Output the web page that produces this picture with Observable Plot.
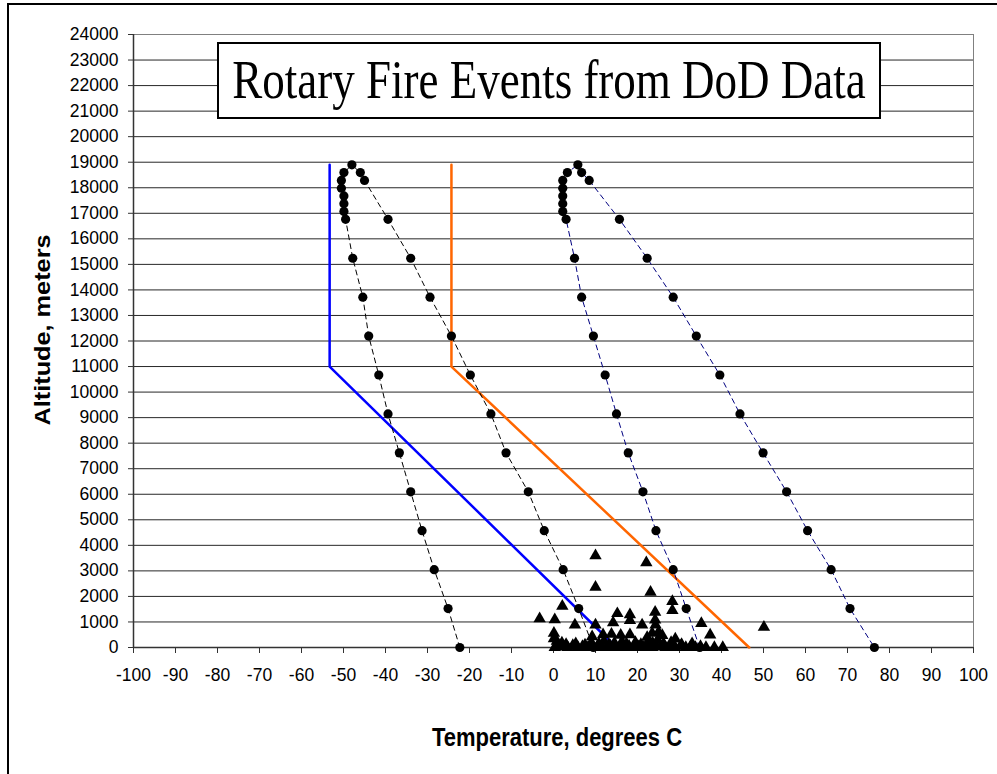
<!DOCTYPE html>
<html>
<head>
<meta charset="utf-8">
<script src="https://cdn.jsdelivr.net/npm/d3@7"></script>
<script src="https://cdn.jsdelivr.net/npm/@observablehq/plot@0.6"></script>
<style>
  html, body { margin: 0; padding: 0; background: #fff; }
</style>
</head>
<body>
<div id="chart"></div>
<script>
// ---- Data ----
const xTicks = [-100,-90,-80,-70,-60,-50,-40,-30,-20,-10,0,10,20,30,40,50,60,70,80,90,100];
const yTicks = [0,1000,2000,3000,4000,5000,6000,7000,8000,9000,10000,11000,12000,13000,14000,15000,16000,17000,18000,19000,20000,21000,22000,23000,24000];

// altitudes (m) of the profile points, ascending
const profileAlt = [0,1524,3048,4572,6096,7620,9144,10668,12192,13716,15240,16764,17069,17374,17678,17983,18288,18593,18898];
// altitudes of the descending (warm) side, top to bottom
const warmAlt = [18593,18288,16764,15240,13716,12192,10668,9144,7620,6096,4572,3048,1524,0];

// black profile pair
const blackColdTemp = [-22.3,-25.1,-28.4,-31.3,-34.0,-36.7,-39.4,-41.6,-44.0,-45.4,-47.8,-49.5,-49.9,-49.9,-49.9,-50.5,-50.5,-49.9,-48.0];
const blackWarmTemp = [-46.0,-45.0,-39.4,-34.0,-29.4,-24.3,-19.8,-14.9,-11.3,-6.0,-2.2,2.3,6.0,9.5];

// navy profile pair
const navyColdTemp = [34.8,31.6,28.5,24.4,21.3,17.8,15.0,12.3,9.5,6.7,5.0,3.0,2.2,2.2,2.2,2.2,2.2,3.3,5.8];
const navyWarmTemp = [6.7,8.5,15.7,22.3,28.5,34.0,39.6,44.4,49.9,55.5,60.5,66.1,70.6,76.4];

// reference lapse-rate lines
const blueTemp = [-53.3,-53.3,15.0];
const blueAlt = [18900,11000,0];
const orangeTemp = [-24.3,-24.3,46.6];
const orangeAlt = [18900,11000,0];

// rotary fire events (triangles)
const fireTemp = [
  10.0,10.0,22.1,23.1,28.3,28.3,2.1,-3.3,0.3,5.1,10.0,15.2,18.2,18.2,14.2,21.1,24.2,24.2,24.3,35.2,37.3,50.1,0.1,0.1,25.0,25.9,
  9.2,11.8,13.8,16.0,18.2,22.3,23.5,29.0,
  0.8,2.0,3.0,5.3,7.5,9.0,10.8,12.0,13.2,14.5,16.3,17.4,19.5,20.8,22.6,23.6,24.8,26.2,28.0,30.5,33.0,
  0.3,1.2,2.5,3.4,4.6,5.8,6.9,8.0,9.1,10.3,11.4,12.6,13.5,14.7,15.9,16.8,18.0,19.1,20.2,21.4,22.3,23.5,24.6,25.5,26.7,27.8,29.0,30.2,31.5,32.6,33.8,35.0,36.3,38.3,40.3
];
const fireAlt = [
  3600,2360,3320,2170,1800,1450,1620,1130,1090,880,880,1330,1290,1060,970,880,1380,1080,880,940,490,800,560,350,600,470,
  420,500,520,480,500,400,560,340,
  250,180,120,150,100,200,150,250,120,180,230,140,200,120,260,180,300,150,200,120,150,
  0,60,20,0,80,0,40,0,60,0,30,0,70,0,20,0,50,0,30,0,60,0,20,40,0,30,0,50,0,20,0,40,0,0,0
];

// ---- Build tables ----
const toRows = (xs, ys) => xs.map((x, i) => ({x, y: ys[i]}));
const blackProfile = toRows(blackColdTemp, profileAlt).concat(toRows(blackWarmTemp, warmAlt));
const navyProfile = toRows(navyColdTemp, profileAlt).concat(toRows(navyWarmTemp, warmAlt));
const blueLine = toRows(blueTemp, blueAlt);
const orangeLine = toRows(orangeTemp, orangeAlt);
const fires = toRows(fireTemp, fireAlt);

const W = 997, H = 774;
const chart = Plot.plot({
  width: W,
  height: H,
  marginLeft: 133,
  marginRight: 24,
  marginTop: 34,
  marginBottom: 127,
  style: {fontFamily: "'Liberation Sans', Arial, sans-serif", fontSize: "17.5px", color: "#000", background: "#fff", overflow: "visible"},
  x: {domain: [-100, 100]},
  y: {domain: [0, 24000]},
  marks: [
    Plot.gridY(yTicks.filter(d => d > 0 && d < 24000), {stroke: "#000", strokeOpacity: 0.85, strokeWidth: 1}),
    Plot.ruleY([24000], {stroke: "#808080", strokeWidth: 1}),
    Plot.ruleX([100], {stroke: "#808080", strokeWidth: 1}),
    Plot.ruleX([-100], {stroke: "#333", strokeWidth: 1.5}),
    Plot.ruleY([0], {stroke: "#333", strokeWidth: 1.5}),
    Plot.axisY({ticks: yTicks, tickSize: 5, tickPadding: 10, tickFormat: d => String(d), label: null, fontSize: 17.5, stroke: "#333"}),
    Plot.axisX({ticks: xTicks, tickSize: 6, tickPadding: 15, tickFormat: d => String(d), label: null, fontSize: 17.5, stroke: "#333"}),
    Plot.line(blueLine, {x: "x", y: "y", stroke: "#0000FF", strokeWidth: 2.5}),
    Plot.line(orangeLine, {x: "x", y: "y", stroke: "#FF6600", strokeWidth: 2.5}),
    Plot.line(blackProfile, {x: "x", y: "y", stroke: "#000", strokeWidth: 1, strokeDasharray: "5,4"}),
    Plot.line(navyProfile, {x: "x", y: "y", stroke: "#000080", strokeWidth: 1, strokeDasharray: "5,4"}),
    Plot.dot(blackProfile, {x: "x", y: "y", r: 4.6, fill: "#000", stroke: null}),
    Plot.dot(navyProfile, {x: "x", y: "y", r: 4.6, fill: "#000", stroke: null}),
    Plot.dot(fires, {x: "x", y: "y", symbol: "triangle", r: 4.6, fill: "#000", stroke: null})
  ]
});

const svg = d3.select(chart);
// outer chart frame
svg.append("path").attr("d", `M8,${H} V4 H${W}`).attr("fill", "none").attr("stroke", "#000").attr("stroke-width", 2);
// title box
svg.append("rect").attr("x", 218).attr("y", 43).attr("width", 662).attr("height", 75)
  .attr("fill", "#fff").attr("stroke", "#000").attr("stroke-width", 2);
svg.append("text").attr("transform", "translate(549,98) scale(1,1.2)")
  .attr("text-anchor", "middle")
  .attr("font-family", "'Liberation Serif', 'Times New Roman', serif")
  .attr("font-size", 45).attr("fill", "#000")
  .text("Rotary Fire Events from DoD Data");
// axis titles
svg.append("text").attr("transform", "translate(557,746) scale(1,1.15)")
  .attr("text-anchor", "middle").attr("font-weight", "bold").attr("font-size", 22)
  .attr("font-family", "'Liberation Sans', Arial, sans-serif").attr("fill", "#000")
  .text("Temperature, degrees C");
svg.append("text").attr("transform", "translate(50,330) scale(1,1.15) rotate(-90)")
  .attr("text-anchor", "middle").attr("font-weight", "bold").attr("font-size", 22)
  .attr("font-family", "'Liberation Sans', Arial, sans-serif").attr("fill", "#000")
  .text("Altitude, meters");

document.getElementById("chart").appendChild(chart);
</script>
</body>
</html>
